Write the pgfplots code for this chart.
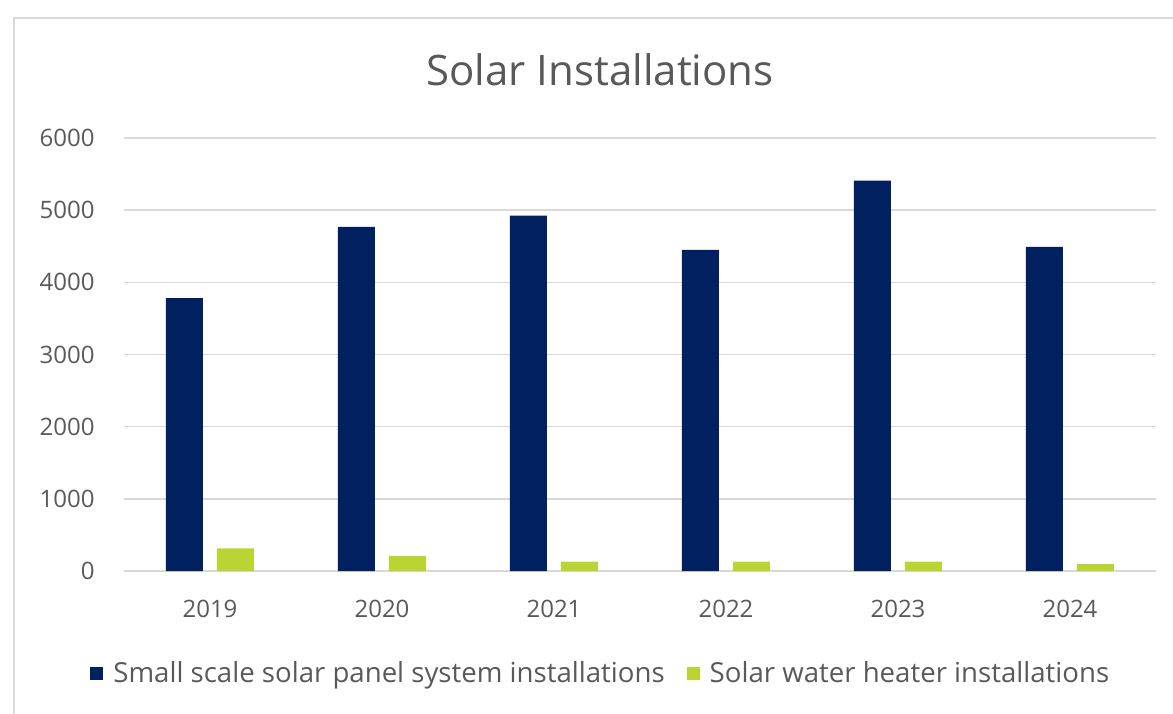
\documentclass[border=0pt]{standalone}
\usepackage{fontspec}
\setmainfont{Open Sans}
\usepackage{pgfplots}
\pgfplotsset{compat=1.18}
\definecolor{navy}{HTML}{002060}
\definecolor{lime}{HTML}{B9D433}
\definecolor{txt}{HTML}{595959}
\definecolor{gridc}{HTML}{D9D9D9}
\begin{document}
\begin{tikzpicture}
\useasboundingbox (-62pt,-71pt) rectangle (524.5pt,285.5pt);
\draw[gridc, line width=1pt] (-55pt,-75pt) -- (-55pt,276.5pt) -- (530pt,276.5pt);
\begin{axis}[
  at={(0pt,0pt)}, anchor=south west,
  scale only axis, width=516pt, height=216.5pt,
  xmin=-0.5, xmax=5.5, ymin=0, ymax=6000,
  ybar=7pt, bar width=18.5pt,
  xtick={0,1,2,3,4,5},
  xticklabels={2019,2020,2021,2022,2023,2024},
  ytick={0,1000,2000,3000,4000,5000,6000},
  ymajorgrids, major grid style={gridc, line width=0.75pt},
  axis line style={draw=none}, tick style={draw=none},
  scaled y ticks=false,
  /pgf/number format/1000 sep={},
  /pgf/number format/assume math mode=true,
  tick label style={font=\fontsize{12}{14}\selectfont, text=txt},
  yticklabel style={anchor=east, inner sep=0pt, xshift=-14.5pt},
  xticklabel style={anchor=center, inner sep=0pt, yshift=-14.5pt},
  legend style={at={(axis description cs:0.463,-0.236)}, anchor=center,
    draw=none, fill=none, font=\fontsize{13.8}{16}\selectfont, text=txt,
    /tikz/every odd column/.append style={column sep=3pt},
    /tikz/every even column/.append style={column sep=9pt}},
  legend columns=2,
  legend image code/.code={\fill[#1] (0pt,-3.25pt) rectangle (6.5pt,3.25pt);},
]
\addplot[fill=navy, draw=none] coordinates {(0,3780) (1,4770) (2,4925) (3,4450) (4,5410) (5,4490)};
\addplot[fill=lime, draw=none] coordinates {(0,315) (1,210) (2,130) (3,130) (4,130) (5,95)};
\legend{Small scale solar panel system installations, Solar water heater installations}
\end{axis}
\node[font=\fontsize{21}{24}\selectfont, text=txt] at (238pt,250.5pt) {Solar Installations};
\end{tikzpicture}
\end{document}
